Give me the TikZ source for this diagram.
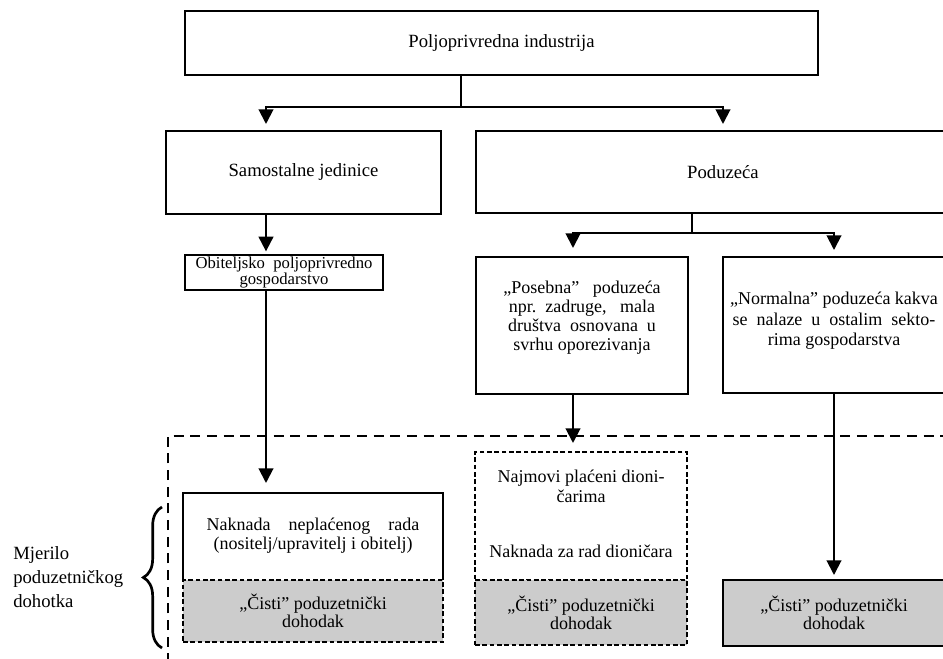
\documentclass[tikz,border=0pt]{standalone}
\usepackage{fontspec}
\setmainfont{Liberation Serif}
\usetikzlibrary{positioning,arrows.meta,decorations.pathreplacing}
\newcommand{\pxl}{0.75pt}

\begin{document}
\begin{tikzpicture}[x=0.75pt,y=-0.75pt]
        \tikzstyle{box}=[rectangle,draw=black,line width=1.5pt,outer sep=0pt,inner sep=2pt,align=center,font=\fontsize{13.5}{13.5}\selectfont]
        \tikzstyle{dbox}=[box,dash pattern=on 3.5pt off 2pt]
        \tikzstyle{greyfill}=[fill=black!20]
        \tikzstyle{wire}=[line width=1.5pt]
        \tikzstyle{arr}=[wire,-{Triangle[width=11pt,length=11pt]}]
        \useasboundingbox (0,0) rectangle (943,659);
        \clip (0,0) rectangle (943,659);
        % upper part
        \node[box,minimum width=633*\pxl,minimum height=64*\pxl,font=\fontsize{14}{17}\selectfont] (industrija) at (501.5,43) {Poljoprivredna industrija};
        \node[box,minimum width=275*\pxl,minimum height=83*\pxl,font=\fontsize{14}{17}\selectfont] (samostalne) at (303.5,172.5) {Samostalne jedinice};
        \node[box,minimum width=494*\pxl,minimum height=82*\pxl,font=\fontsize{14}{17}\selectfont] (poduzeca) at (723,172) {Poduzeća};
        \node[box,minimum width=198*\pxl,minimum height=33*\pxl,inner sep=1pt,font=\fontsize{12.5}{8.5}\selectfont] (obiteljsko) at (284,272.5) {Obiteljsko~~poljoprivredno\\gospodarstvo};
        \node[box,minimum width=212*\pxl,minimum height=137*\pxl,font=\fontsize{13.5}{14.25}\selectfont] (posebna) at (582,325.5) {„Posebna”~~~poduzeća\\npr.~~zadruge,~~~mala\\društva~~osnovana~~u\\svrhu~oporezivanja\\[0.2pt]};
        \node[box,minimum width=222*\pxl,minimum height=136*\pxl,font=\fontsize{13.5}{15.4}\selectfont] (normalna) at (834,325) {„Normalna” poduzeća kakva\\se~~nalaze~~u~~ostalim~~sekto-\\rima gospodarstva\\[-6.6pt]};
        % lower part
        \node[box,draw=none,minimum width=260*\pxl,minimum height=87*\pxl,font=\fontsize{13.5}{14.25}\selectfont] (naknada) at (313,536.5) {Naknada~~~~neplaćenog~~~~rada\\(nositelj/upravitelj i obitelj)\\[-10.3pt]};
        \node[dbox,greyfill,minimum width=260*\pxl,minimum height=62*\pxl,below=0pt of naknada] (cisti_1) {„Čisti” poduzetnički\\dohodak};
        \node[dbox,minimum width=212*\pxl,minimum height=128*\pxl,font=\fontsize{13.5}{15}\selectfont] (najmovi) at (581,516) {Najmovi plaćeni dioni-\\čarima\\[26.25pt]Naknada za rad dioničara\\[-11.4pt]};
        \node[dbox,greyfill,minimum width=212*\pxl,minimum height=65*\pxl,below=0pt of najmovi] (cisti_2) {„Čisti” poduzetnički\\dohodak};
        \node[box,greyfill,minimum width=222*\pxl,minimum height=66*\pxl] (cisti_3) at (834,613) {„Čisti” poduzetnički\\dohodak};
        \node[align=left,anchor=west,inner sep=0pt,font=\fontsize{14}{18}\selectfont] (mjerilo) at (13,577) {Mjerilo\\poduzetničkog\\dohotka};
        \draw[wire] (naknada.south west) |- (naknada.north east) -- (naknada.south east);
        % measured region and brace
        \draw[wire,dash pattern=on 7.5pt off 5pt] (168,680) |- (960,435.5);
        \coordinate (br_top) at (162,507);
        \coordinate (br_bot) at (162,648);
        \draw[line width=2pt,decorate,decoration={brace,amplitude=14pt}] (br_bot) -- (br_top);
        % connectors
        \coordinate (split_1) at (461,107);
        \coordinate (split_2) at (692,233);
        \coordinate (col_1) at (266,0);
        \coordinate (col_2) at (573,0);
        \draw[wire] (industrija.south -| split_1) -- (split_1);
        \draw[arr,shorten >=7*\pxl] (split_1) -| (samostalne.north -| col_1);
        \draw[arr,shorten >=7*\pxl] (split_1) -| (poduzeca.north);
        \draw[arr,shorten >=4*\pxl] (samostalne.south -| col_1) -- (obiteljsko.north -| col_1);
        \draw[arr,shorten >=10*\pxl] (obiteljsko.south -| col_1) -- (naknada.north -| col_1);
        \draw[wire] (poduzeca.south -| split_2) -- (split_2);
        \draw[arr,shorten >=9*\pxl] (split_2) -| (posebna.north -| col_2);
        \draw[arr,shorten >=7*\pxl] (split_2) -| (normalna.north);
        \draw[arr,shorten >=9*\pxl] (posebna.south -| col_2) -- (najmovi.north -| col_2);
        \draw[arr,shorten >=5*\pxl] (normalna.south) -- (cisti_3.north);
\end{tikzpicture}
\end{document}
